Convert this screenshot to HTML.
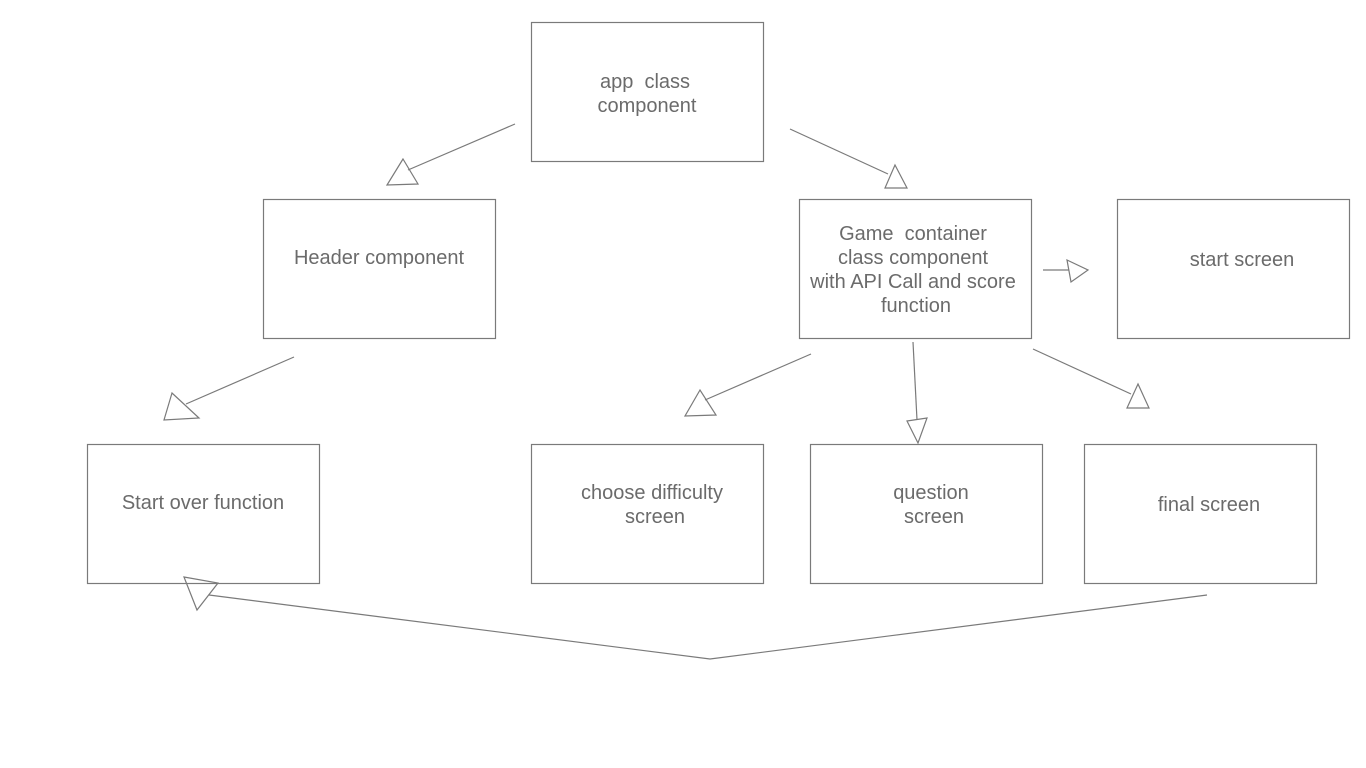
<!DOCTYPE html>
<html><head><style>
html,body{margin:0;padding:0;background:#fff;width:1366px;height:768px;overflow:hidden}
svg text{font-family:"Liberation Sans",Helvetica,Arial,sans-serif;font-size:20px;fill:#6b6b6b;text-anchor:middle;white-space:pre}
</style></head><body>
<svg width="1366" height="768" xmlns="http://www.w3.org/2000/svg" xml:space="preserve">
<g fill="none" stroke="#7a7a7a" stroke-width="1.2">
<rect x="531.5" y="22.5" width="232" height="139"/>
<rect x="263.5" y="199.5" width="232" height="139"/>
<rect x="799.5" y="199.5" width="232" height="139"/>
<rect x="1117.5" y="199.5" width="232" height="139"/>
<rect x="87.5" y="444.5" width="232" height="139"/>
<rect x="531.5" y="444.5" width="232" height="139"/>
<rect x="810.5" y="444.5" width="232" height="139"/>
<rect x="1084.5" y="444.5" width="232" height="139"/>
<line x1="515" y1="124" x2="408" y2="170"/>
<polygon points="403,159 387,185 418,184"/>
<line x1="790" y1="129" x2="888" y2="174"/>
<polygon points="895,165 885,188 907,188"/>
<line x1="294" y1="357" x2="186" y2="404"/>
<polygon points="172,393 164,420 199,418"/>
<line x1="811" y1="354" x2="705" y2="400"/>
<polygon points="700,390 685,416 716,415"/>
<line x1="913" y1="342" x2="917" y2="420"/>
<polygon points="907,421 927,418 918,443"/>
<line x1="1033" y1="349" x2="1131" y2="394"/>
<polygon points="1138,384 1127,408 1149,408"/>
<line x1="1043" y1="270" x2="1069" y2="270"/>
<polygon points="1067,260 1088,270 1071,282"/>
<polyline points="1207,595 710,659 209,595"/>
<polygon points="184,577 218,583 197,610"/>
</g>
<text x="645" y="88">app  class</text>
<text x="647" y="112">component</text>
<text x="379" y="264">Header component</text>
<text x="913" y="240">Game  container</text>
<text x="913" y="264">class component</text>
<text x="913" y="288">with API Call and score</text>
<text x="916" y="312">function</text>
<text x="1242" y="266">start screen</text>
<text x="203" y="509">Start over function</text>
<text x="652" y="499">choose difficulty</text>
<text x="655" y="523">screen</text>
<text x="931" y="499">question</text>
<text x="934" y="523">screen</text>
<text x="1209" y="511">final screen</text>
</svg>
</body></html>
